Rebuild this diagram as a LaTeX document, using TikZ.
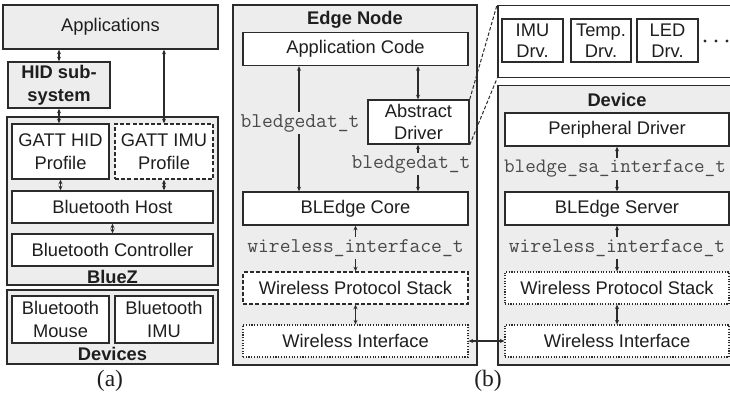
\documentclass[tikz,border=0pt]{standalone}
\usepackage{fontspec}
\setmainfont{Liberation Sans}
\newfontfamily\serf{Liberation Serif}
\usetikzlibrary{arrows.meta}
\definecolor{bggray}{HTML}{EDEDED}
\definecolor{edgec}{HTML}{2B2B2B}
\definecolor{txt}{HTML}{1E1E1E}
\definecolor{montxt}{HTML}{4A4A4A}
\begin{document}
\begin{tikzpicture}[x=1pt,y=-1pt,
 every node/.style={inner sep=0pt, font=\fontsize{18.3}{23}\selectfont, text=txt},
 cont/.style={draw=edgec, fill=bggray, line width=1.5pt},
 wbox/.style={draw=edgec, fill=white, line width=1.5pt, align=center},
 gbox/.style={draw=edgec, fill=bggray, line width=1.5pt, align=center},
 dashbox/.style={wbox, dash pattern=on 4pt off 2.2pt},
 dotbox/.style={wbox, line width=1.2pt, dash pattern=on 1.1pt off 1.6pt},
 lbl/.style={font=\bfseries\fontsize{18.3}{23}\selectfont, align=center},
 mlbl/.style={font=\ttfamily\fontsize{21}{23}\selectfont, text=montxt, fill=bggray, inner ysep=2pt},
 biarrow/.style={draw=edgec, line width=1.2pt, {Stealth[length=4.5pt,width=4pt]}-{Stealth[length=4.5pt,width=4pt]}},
 zoomline/.style={draw=edgec, line width=1pt, dash pattern=on 3.5pt off 2pt},
 capt/.style={font=\serf\fontsize{23.5}{25}\selectfont}]
\useasboundingbox (0,0) rectangle (730,395);
\clip (0,0) rectangle (730,395);

% ---------- (a) ----------
\node[gbox, minimum width=215pt, minimum height=44pt] (apps) at (110.5,27) {Applications};
\node[gbox, lbl, minimum width=102pt, minimum height=46pt] (hid) at (59,85) {HID sub-\\system};
\node[cont, minimum width=211pt, minimum height=168pt] (bluez) at (112.5,201) {};
\node[wbox, minimum width=97pt, minimum height=55pt] (gatthid) at (60.5,151.5) {GATT HID\\Profile};
\node[dashbox, minimum width=98pt, minimum height=55pt] (gattimu) at (164,151.5) {GATT IMU\\Profile};
\node[wbox, minimum width=201pt, minimum height=32pt] (host) at (112.5,207) {Bluetooth Host};
\node[wbox, minimum width=201pt, minimum height=32pt] (ctrl) at (112.5,250) {Bluetooth Controller};
\node[lbl] (bluezl) at (112.5,277) {BlueZ};
\node[cont, minimum width=211pt, minimum height=74pt] (devs) at (112.5,327) {};
\node[wbox, minimum width=97pt, minimum height=47pt] (mouse) at (60.5,319.5) {Bluetooth\\Mouse};
\node[wbox, minimum width=98pt, minimum height=47pt] (btimu) at (164,319.5) {Bluetooth\\IMU};
\node[lbl] (devsl) at (112.5,354) {Devices};
\node[capt] (capa) at (110,381) {(a)};

\draw[biarrow] (hid.north) -- (hid.north |- apps.south);
\draw[biarrow] (hid.south) -- (hid.south |- gatthid.north);
\draw[biarrow] (gattimu.north) -- (gattimu.north |- apps.south);
\draw[biarrow] (gatthid.south) -- (gatthid.south |- host.north);
\draw[biarrow] (gattimu.south) -- (gattimu.south |- host.north);
\draw[biarrow] (host.south) -- (ctrl.north);

% ---------- (b) left ----------
\node[cont, minimum width=244pt, minimum height=360pt] (edge) at (355,185) {};
\node[lbl] (edgel) at (355,20) {Edge Node};
\node[wbox, minimum width=225pt, minimum height=33pt] (appcode) at (355.5,49) {Application Code};
\node[wbox, minimum width=101pt, minimum height=44pt, font=\fontsize{18.3}{21.5}\selectfont] (absdrv) at (418.5,122) {Abstract\\Driver};
\node[wbox, minimum width=225pt, minimum height=33pt] (core) at (355.5,208.5) {BLEdge Core};
\node[dashbox, minimum width=225pt, minimum height=32pt] (wps) at (355.5,288) {Wireless Protocol Stack};
\node[dotbox, minimum width=225pt, minimum height=32pt] (wi) at (355.5,341) {Wireless Interface};

\coordinate (la) at (299,0);
\coordinate (ra) at (418,0);
\draw[biarrow] (la |- appcode.south) -- (la |- core.north);
\node[mlbl] (l1) at (300,123) {bledgedat\_t};
\draw[biarrow] (ra |- appcode.south) -- (ra |- absdrv.north);
\draw[biarrow] (ra |- absdrv.south) -- (ra |- core.north);
\node[mlbl] (l2) at (411,164) {bledgedat\_t};
\draw[biarrow] (core.south) -- (wps.north);
\node[mlbl] (l3) at (355.5,248) {wireless\_interface\_t};
\draw[biarrow] (wps.south) -- (wi.north);

% ---------- (b) right ----------
\node[wbox, anchor=north west, minimum width=241pt, minimum height=72pt] (drv) at (497,5) {};
\node[wbox, minimum width=61pt, minimum height=43pt, font=\fontsize{18.3}{21.5}\selectfont] (imudrv) at (532.5,40.5) {IMU\\Drv.};
\node[wbox, minimum width=60pt, minimum height=43pt, font=\fontsize{18.3}{21.5}\selectfont] (tempdrv) at (601,40.5) {Temp.\\Drv.};
\node[wbox, minimum width=61pt, minimum height=43pt, font=\fontsize{18.3}{21.5}\selectfont] (leddrv) at (667.5,40.5) {LED\\Drv.};
\fill[edgec] (705,41) circle (1.7) (716,41) circle (1.7) (727,41) circle (1.7);

\node[cont, anchor=north west, minimum width=241pt, minimum height=279pt] (dev) at (497,85) {};
\node[lbl] (devl) at (617,100) {Device};
\node[wbox, minimum width=224pt, minimum height=33pt] (periph) at (617,129.5) {Peripheral Driver};
\node[wbox, minimum width=224pt, minimum height=33pt] (server) at (617,208.5) {BLEdge Server};
\node[dotbox, minimum width=224pt, minimum height=32pt] (wps2) at (617,288) {Wireless Protocol Stack};
\node[dotbox, minimum width=224pt, minimum height=32pt] (wi2) at (617,341) {Wireless Interface};

\draw[biarrow] (periph.south) -- (server.north);
\node[mlbl, inner xsep=0pt, font=\ttfamily\fontsize{20.5}{23}\selectfont] (l4) at (615,169) {bledge\_sa\_interface\_t};
\draw[biarrow] (server.south) -- (wps2.north);
\node[mlbl] (l5) at (617,248) {wireless\_interface\_t};
\draw[biarrow] (wps2.south) -- (wi2.north);

\draw[biarrow] (wi.east) -- (wi2.west);
\draw[zoomline] (absdrv.north east) -- (drv.north west);
\draw[zoomline] (absdrv.south east) -- (drv.south west);

\node[capt] (capb) at (488,381) {(b)};
\end{tikzpicture}
\end{document}
